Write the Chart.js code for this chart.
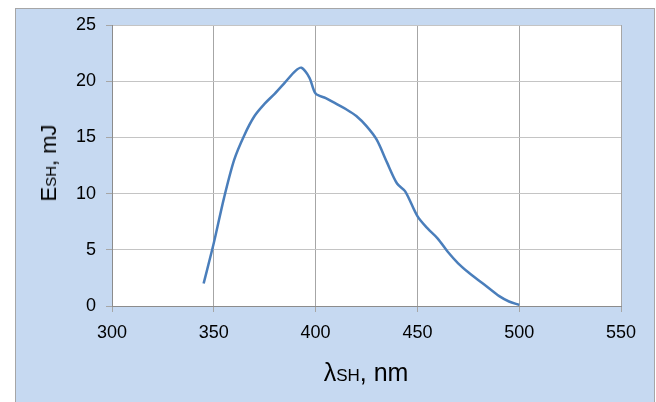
<!DOCTYPE html>
<html>
<head>
<meta charset="utf-8">
<script src="https://cdn.jsdelivr.net/npm/chart.js@4"></script>
<style>
  html, body { margin: 0; padding: 0; background: #fff; }
  #wrap { position: relative; width: 656px; height: 402px; overflow: hidden; }
  #bg {
    position: absolute; left: 15px; top: 8px; width: 638px; height: 400px;
    background: #c6d9f1; border: 1px solid #a6a6a6; border-bottom: none;
  }
  #chart { position: absolute; left: 0; top: 0; }
  .title { position: absolute; font-family: "Liberation Sans", Arial, sans-serif; color: #000; white-space: nowrap; }
  #xTitle { left: 366px; top: 358px; transform: translateX(-50%); font-size: 25px; }
  #xTitle span { font-size: 17px; }
  #yTitle { left: 49px; top: 163px; transform: translate(-50%, -50%) rotate(-90deg); font-size: 22px; }
  #yTitle span { font-size: 15px; }
</style>
</head>
<body>
<div id="wrap">
  <div id="bg"></div>
  <canvas id="chart" width="656" height="402"></canvas>
  <div class="title" id="xTitle">λ<span>SH</span>, nm</div>
  <div class="title" id="yTitle">E<span>SH</span>, mJ</div>
</div>
<script>
const wavelength = [345, 350, 355, 360, 365, 370, 375, 380, 385, 390, 393, 397, 400, 405, 410, 415, 420, 425, 430, 435, 440, 444, 450, 455, 460, 465, 470, 475, 480, 485, 490, 495, 500];
const energy = [2.0, 5.6, 9.6, 13.0, 15.2, 16.9, 18.0, 18.9, 19.9, 20.9, 21.2, 20.3, 18.9, 18.5, 18.0, 17.5, 16.9, 16.0, 14.8, 12.8, 10.9, 10.2, 8.0, 6.9, 6.0, 4.8, 3.8, 3.0, 2.3, 1.6, 0.9, 0.4, 0.1];
const xTicks = [300, 350, 400, 450, 500, 550];
const yTicks = [0, 5, 10, 15, 20, 25];

const plotBg = {
  id: 'plotBg',
  beforeDraw(chart) {
    const a = chart.chartArea;
    const ctx = chart.ctx;
    ctx.save();
    ctx.fillStyle = '#ffffff';
    ctx.fillRect(a.left, a.top, a.right - a.left, a.bottom - a.top);
    ctx.restore();
  }
};

const tickFont = { family: '"Liberation Sans", Arial, sans-serif', size: 18 };

new Chart(document.getElementById('chart'), {
  type: 'scatter',
  data: {
    datasets: [{
      data: wavelength.map((w, i) => ({ x: w, y: energy[i] })),
      showLine: true,
      borderColor: '#4a7ebb',
      borderWidth: 2.5,
      pointRadius: 0,
      tension: 0.3,
      fill: false
    }]
  },
  options: {
    responsive: false,
    animation: false,
    layout: { padding: { top: 25, right: 35, left: 0, bottom: 0 } },
    plugins: { legend: { display: false }, tooltip: { enabled: false } },
    scales: {
      x: {
        type: 'linear',
        min: xTicks[0],
        max: xTicks[xTicks.length - 1],
        afterBuildTicks: axis => { axis.ticks = xTicks.map(v => ({ value: v })); },
        afterFit: axis => { axis.height = 96; },
        ticks: { color: '#000', font: tickFont, padding: 10, maxRotation: 0 },
        grid: { color: '#a6a6a6', tickColor: '#a6a6a6', tickLength: 6, lineWidth: 1 },
        border: { color: '#8c8c8c' }
      },
      y: {
        min: yTicks[0],
        max: yTicks[yTicks.length - 1],
        afterBuildTicks: axis => { axis.ticks = yTicks.map(v => ({ value: v })); },
        afterFit: axis => { axis.width = 112; },
        ticks: { color: '#000', font: tickFont, padding: 10 },
        grid: { color: '#c4c4c4', tickColor: '#a6a6a6', tickLength: 6, lineWidth: 1 },
        border: { color: '#8c8c8c' }
      }
    }
  },
  plugins: [plotBg]
});
</script>
</body>
</html>
